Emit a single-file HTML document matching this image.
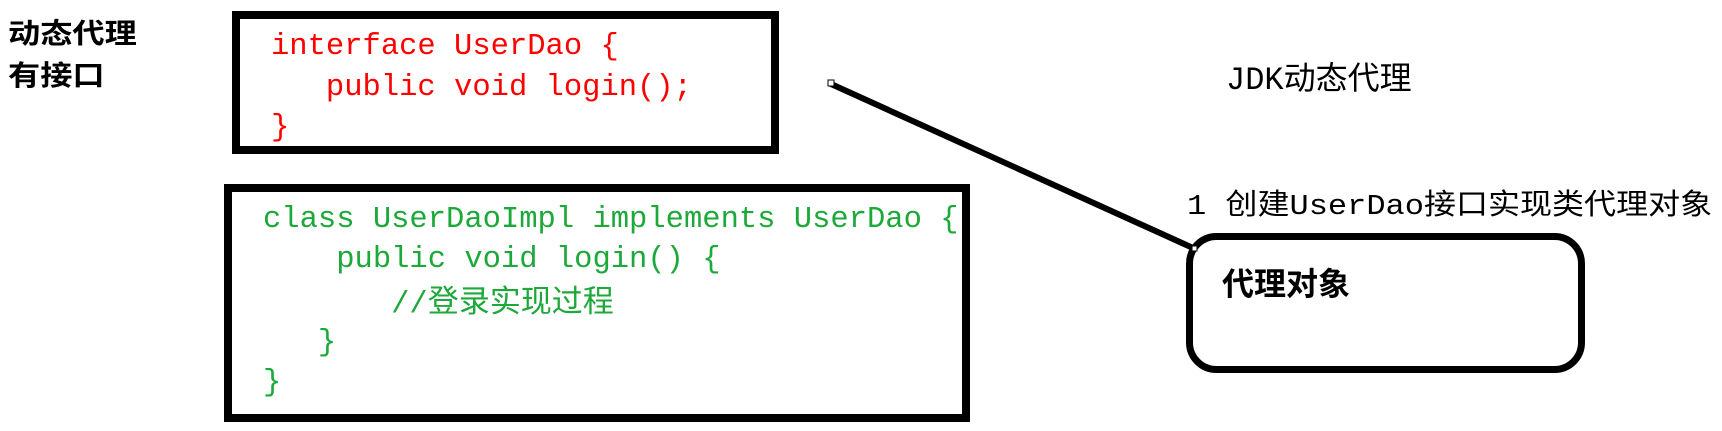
<!DOCTYPE html>
<html><head><meta charset="utf-8"><style>
body{margin:0;width:1722px;height:431px;background:#fff;position:relative;overflow:hidden;font-family:"Liberation Mono","Noto Sans CJK SC",monospace;}
.a{position:absolute;white-space:pre;line-height:1;}
.cj{font-family:"Noto Sans CJK SC",sans-serif;}
.cn{font-family:"Noto Sans CJK SC",sans-serif;font-weight:bold;color:#000;}
.box{position:absolute;border:8px solid #000;box-sizing:border-box;}
.m{font-size:30.5px;}
.g{color:#1da83a;}
.r{color:#f00;}
</style></head><body>
<div class="a cn" style="left:8px;top:18px;font-size:28px;transform:scaleX(1.15);transform-origin:0 0;">动态代理</div>
<div class="a cn" style="left:8px;top:60px;font-size:28px;transform:scaleX(1.15);transform-origin:0 0;">有接口</div>

<div class="box" style="left:232px;top:11px;width:547px;height:143px;"></div>
<div class="a m r" style="left:271px;top:32px;">interface UserDao {</div>
<div class="a m r" style="left:271px;top:73px;">   public void login();</div>
<div class="a m r" style="left:271px;top:113px;">}</div>

<div class="box" style="left:224px;top:184px;width:746px;height:238px;"></div>
<div class="a m g" style="left:263px;top:205px;">class UserDaoImpl implements UserDao {</div>
<div class="a m g" style="left:263px;top:245px;">    public void login() {</div>
<div class="a m g" style="left:263px;top:283px;">       //<span class="cj" style="font-size:31px;">登录实现过程</span></div>
<div class="a m g" style="left:263px;top:328px;">   }</div>
<div class="a m g" style="left:263px;top:368px;">}</div>

<svg style="position:absolute;left:0;top:0" width="1722" height="431">
<line x1="831" y1="84" x2="1193" y2="248" stroke="#000" stroke-width="6"/>
<rect x="828" y="80" width="6" height="6" fill="#fff" stroke="#000" stroke-width="1"/>
<rect x="1189.5" y="236.5" width="392" height="133" rx="27" ry="27" fill="none" stroke="#000" stroke-width="7"/>
<rect x="1192" y="246" width="5" height="5" fill="#fff" stroke="#000" stroke-width="1"/>
</svg>

<div class="a" style="left:1226px;top:60px;font-size:32px;">JDK<span class="cj">动态代理</span></div>
<div class="a" style="left:1187px;top:188px;font-size:29px;transform:scaleX(1.104);transform-origin:0 0;">1 <span class="cj">创建</span>UserDao<span class="cj">接口实现类代理对象</span></div>
<div class="a cn" style="left:1222px;top:266px;font-size:32px;">代理对象</div>
</body></html>
